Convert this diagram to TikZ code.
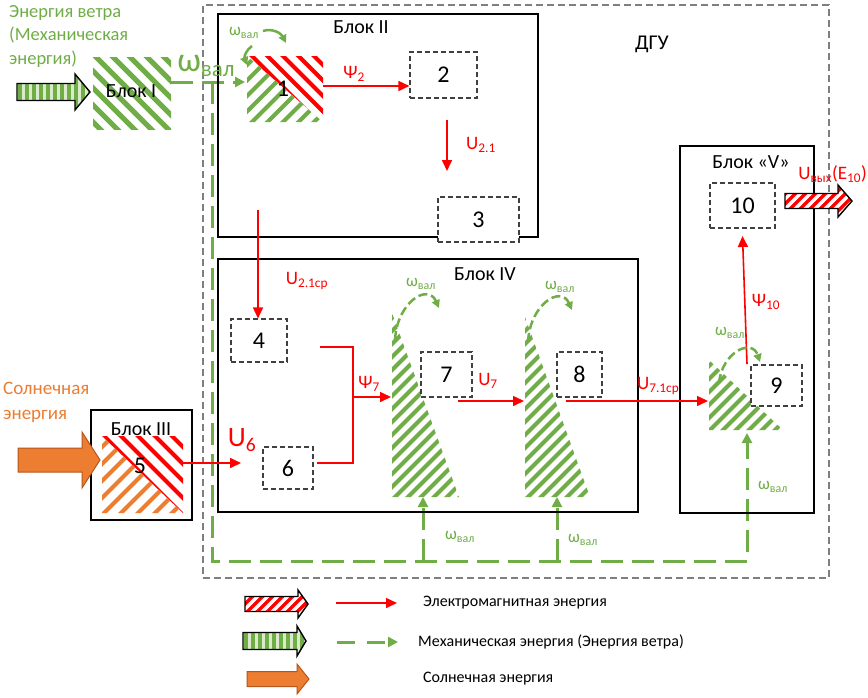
\documentclass[tikz,border=0pt]{standalone}
\usepackage{fontspec}
\setmainfont{Carlito}
\usetikzlibrary{arrows.meta}
\definecolor{mgreen}{HTML}{70AD47}
\definecolor{lgreen}{HTML}{D9EBCB}
\definecolor{morange}{HTML}{ED7D31}
\definecolor{dorange}{HTML}{B4561C}
\definecolor{tgray}{HTML}{7F7F7F}
\definecolor{dgray}{HTML}{404040}
\definecolor{mred}{HTML}{FF0000}
\newcommand\fs[1]{\fontsize{#1}{#1}\selectfont}
% hatch helpers (use inside a clipped scope)
\newcommand\hatchbs[5]{\foreach \k in {-22,...,22}{\draw[#1,line width=#2] ({#4+\k*#3-140},{#5-140}) -- ++(280,280);}}
\newcommand\hatchfs[5]{\foreach \k in {-22,...,22}{\draw[#1,line width=#2] ({#4+\k*#3-140},{#5+140}) -- ++(280,-280);}}
\newcommand\hatchv[5]{\foreach \k in {-12,...,12}{\draw[#1,line width=#2] ({#4+\k*#3},{#5-40}) -- ++(0,80);}}
% block arrow outline: x0, xbody, xtip, ycentre, half body, half head
\newcommand\barrow[6]{(#1,{#4-#5}) -- (#2,{#4-#5}) -- (#2,{#4-#6}) -- (#3,#4) -- (#2,{#4+#6}) -- (#2,{#4+#5}) -- (#1,{#4+#5}) -- cycle}
\tikzset{
  blk/.style={draw=black, line width=1.8pt, inner sep=0pt},
  dbox/.style={draw=dgray, dash pattern=on 5pt off 3pt, line width=1.1pt, fill=white, inner sep=0pt, font=\fs{24}},
  rarr/.style={draw=mred, line width=1.6pt, -{Triangle[length=11pt,width=10pt]}},
  rline/.style={draw=mred, line width=1.3pt},
  garr/.style={draw=mgreen, line width=3pt, dash pattern=on 22pt off 9pt, -{Triangle[length=10pt,width=10pt]}},
  garc/.style={draw=mgreen, line width=2.5pt, -{Triangle[length=8pt,width=8pt]}},
  gdarc/.style={garc, dash pattern=on 9pt off 4pt},
  blabel/.style={inner sep=0pt, font=\fs{20}},
  numlbl/.style={inner sep=0pt, font=\fs{24}},
  rlabel/.style={inner sep=0pt, text=mred, font=\fs{19}},
  glabel/.style={inner sep=0pt, text=mgreen, font=\fs{17}},
  legtext/.style={inner sep=0pt, anchor=west, font=\fs{16}},
  arrowline/.style={draw=black, line width=1.4pt},
}
\begin{document}
\begin{tikzpicture}[x=1pt,y=-1pt]
\useasboundingbox (0,0) rectangle (868,697);
\fill[white] (0,0) rectangle (868,697);

% ---------- outer DGU frame ----------
\node[draw=tgray, dash pattern=on 7pt off 4pt, line width=1.6pt, minimum width=626pt, minimum height=573pt, inner sep=0pt] (dgu) at (516,291.5) {};
\node[blabel, font=\fs{21}] (dgulbl) at (652,44) {ДГУ};

% ---------- mechanical (green dashed) connectors ----------
\coordinate (g0) at (171,82);
\coordinate (g1) at (245,82);
\coordinate (gj) at (212,82);
\coordinate (gb) at (212,561);
\coordinate (gr) at (747,561);
\coordinate (g9) at (747,433);
\coordinate (gs7) at (423,561);
\coordinate (gt7) at (423,497);
\coordinate (gs8) at (557,561);
\coordinate (gt8) at (557,497);
\draw[garr] (g0) -- (g1);
\draw[garr] (gj) -- (gb) -- (gr) -- (g9);
\draw[garr] (gs7) -- (gt7);
\draw[garr] (gs8) -- (gt8);

% ---------- blocks ----------
\node[blk, minimum width=320pt, minimum height=223pt] (B2) at (378,125.5) {};
\node[blabel] (B2l) at (361,27.5) {Блок II};
\node[blk, minimum width=420pt, minimum height=253pt] (B4) at (428,385.5) {};
\node[blabel] (B4l) at (485,274) {Блок IV};
\node[blk, minimum width=134pt, minimum height=367pt] (B5) at (747,329.5) {};
\node[blabel] (B5l) at (751,162) {Блок «V»};
\node[blk, minimum width=101pt, minimum height=110pt] (B3) at (141.5,465) {};

% ---------- Block I (green hatched) ----------
\begin{scope}
  \clip (93,57) rectangle (171,129);
  \hatchbs{mgreen}{5pt}{17}{132}{93}
\end{scope}
\node[blabel] (B1) at (131,91) {Блок I};

% ---------- element 1 ----------
\begin{scope}
  \clip (247,56) -- (323,56) -- (323,122) -- cycle;
  \hatchbs{mred}{4pt}{15.5}{285}{89}
\end{scope}
\begin{scope}
  \clip (247,56) -- (247,122) -- (323,122) -- cycle;
  \hatchfs{mgreen}{4pt}{15.5}{285}{89}
\end{scope}
\node[numlbl] (e1) at (283,89) {1};

% ---------- element 5 ----------
\begin{scope}
  \clip (102,436) -- (183,436) -- (183,513) -- cycle;
  \hatchbs{mred}{4pt}{17}{142.5}{474.5}
\end{scope}
\begin{scope}
  \clip (102,436) -- (102,513) -- (183,513) -- cycle;
  \hatchfs{morange}{4pt}{17}{142.5}{474.5}
\end{scope}
\node[blabel] (B3l) at (141,429) {Блок III};
\node[numlbl] (e5) at (140,466) {5};

% ---------- hatched wedges 7, 8, 9 ----------
\begin{scope}
  \clip (392,313) -- (392,497) -- (459,497) -- cycle;
  \hatchfs{mgreen}{4pt}{13}{420}{420}
\end{scope}
\begin{scope}
  \clip (525,317) -- (525,497) -- (590,497) -- cycle;
  \hatchfs{mgreen}{4pt}{13}{553}{420}
\end{scope}
\begin{scope}
  \clip (709,360) -- (709,430) -- (783,430) -- cycle;
  \hatchfs{mgreen}{4pt}{13}{740}{400}
\end{scope}

% ---------- dashed element boxes ----------
\node[dbox, minimum width=67pt, minimum height=46pt] (b2) at (443.5,75) {2};
\node[dbox, minimum width=81pt, minimum height=45pt] (b3) at (478.5,219.5) {3};
\node[dbox, minimum width=56pt, minimum height=43pt] (b4) at (259,340.5) {4};
\node[dbox, minimum width=50pt, minimum height=42pt] (b6) at (288,468) {6};
\node[dbox, minimum width=51pt, minimum height=45pt] (b7) at (446.5,374.5) {7};
\node[dbox, minimum width=45pt, minimum height=45pt] (b8) at (579.5,374.5) {8};
\node[dbox, minimum width=51pt, minimum height=41pt] (b9) at (776.5,385.5) {9};
\node[dbox, minimum width=65pt, minimum height=45pt] (b10) at (742.5,205.5) {10};

% ---------- electromagnetic (red) connectors ----------
\coordinate (r1) at (323,86);
\draw[rarr] (r1) -- (b2.west |- r1);
\coordinate (r21a) at (447,120);
\coordinate (r21b) at (447,171);
\draw[rarr] (r21a) -- (r21b);
\coordinate (r2c) at (258,210);
\draw[rarr] (r2c) -- (b4.north -| r2c);
\coordinate (r5) at (183,463);
\coordinate (r6) at (241,463);
\draw[rarr] (r5) -- (r6);
\coordinate (ra) at (320,347);
\coordinate (rb) at (353,347);
\coordinate (rc) at (353,463);
\coordinate (rd) at (317,463);
\draw[rline] (ra) -- (rb) -- (rc) -- (rd);
\coordinate (rm) at (353,397);
\coordinate (r7in) at (391,397);
\draw[rarr] (rm) -- (r7in);
\coordinate (r7o) at (458,401);
\coordinate (r8in) at (524,401);
\draw[rarr] (r7o) -- (r8in);
\coordinate (r8o) at (566,401);
\coordinate (r9in) at (708,401);
\draw[rarr] (r8o) -- (r9in);
\coordinate (r9o) at (747,364);
\draw[rarr] (r9o) -- (b10.south |- 0,236);

% ---------- rotation arcs ----------
\draw[garc] (263,31) .. controls (272,28) and (281,33) .. (286,43);
\draw[garc] (252,46) .. controls (246,50) and (244,57) .. (247,65);
\draw[gdarc] (395,340) .. controls (397,302) and (428,283) .. (439,308);
\draw[gdarc] (528,342) .. controls (530,304) and (561,285) .. (572,310);
\draw[gdarc] (719,383) .. controls (722,352) and (752,338) .. (760,362);

% ---------- labels ----------
\node[glabel] (w1) at (244,33) {ω\textsubscript{вал}};
\node[inner sep=0pt, text=mgreen] (wbig) at (206,66) {{\fs{34}ω}{\fs{23}\raisebox{-5pt}{вал}}};
\node[glabel] (w7) at (421,284) {ω\textsubscript{вал}};
\node[glabel] (w8) at (560,287) {ω\textsubscript{вал}};
\node[glabel] (w9) at (730,333) {ω\textsubscript{вал}};
\node[glabel] (wb1) at (460,537) {ω\textsubscript{вал}};
\node[glabel] (wb2) at (583,540) {ω\textsubscript{вал}};
\node[glabel] (wb3) at (773,487) {ω\textsubscript{вал}};

\node[rlabel] (lpsi2) at (354,74) {Ψ\textsubscript{2}};
\node[rlabel] (lu21) at (481,145) {U\textsubscript{2.1}};
\node[rlabel] (lu21cp) at (307,281) {U\textsubscript{2.1ср}};
\node[rlabel, font=\fs{28}] (lu6) at (242,440) {U\textsubscript{6}};
\node[rlabel] (lpsi7) at (369,384) {Ψ\textsubscript{7}};
\node[rlabel] (lu7) at (488,381) {U\textsubscript{7}};
\node[rlabel, anchor=west] (lu71) at (637,386) {U\textsubscript{7.1ср}};
\node[rlabel] (lpsi10) at (766,302) {Ψ\textsubscript{10}};
\node[rlabel, anchor=east] (luout) at (867,174) {U\textsubscript{вых}(E\textsubscript{10})};

% ---------- input texts ----------
\node[inner sep=0pt, anchor=north west, align=left, text=mgreen, font=\fontsize{18.5}{23.5}\selectfont] (tw) at (9,5) {Энергия ветра\\(Механическая\\энергия)};
\node[inner sep=0pt, anchor=north west, align=left, text=morange, font=\fontsize{19}{25}\selectfont] (ts) at (3,382) {Солнечная\\энергия};

% ---------- block arrows ----------
% wind input
\begin{scope}
  \clip \barrow{17}{75}{90}{92}{8.5}{18};
  \fill[lgreen] (10,70) rectangle (95,115);
  \hatchv{mgreen}{3.5pt}{7}{20}{92}
\end{scope}
\draw[arrowline] \barrow{17}{75}{90}{92}{8.5}{18};
% solar input
\draw[fill=morange, draw=dorange, line width=1pt] \barrow{18}{82}{100}{460}{12}{28};
% output
\begin{scope}
  \clip \barrow{785}{838}{852}{201}{7.5}{16};
  \fill[white] (780,180) rectangle (860,220);
  \hatchfs{mred}{3.5pt}{10}{818}{201}
\end{scope}
\draw[arrowline] \barrow{785}{838}{852}{201}{7.5}{16};

% ---------- legend ----------
\begin{scope}
  \clip \barrow{245}{298}{308}{604}{7.5}{14};
  \fill[white] (240,585) rectangle (312,622);
  \hatchfs{mred}{3.5pt}{10}{275}{604}
\end{scope}
\draw[arrowline] \barrow{245}{298}{308}{604}{7.5}{14};
\coordinate (lr0) at (336,603);
\coordinate (lr1) at (397,603);
\draw[rarr] (lr0) -- (lr1);
\node[legtext] (lt1) at (423,603) {Электромагнитная энергия};

\begin{scope}
  \clip \barrow{243}{297}{306}{641}{8.5}{15};
  \fill[lgreen] (238,622) rectangle (312,662);
  \hatchv{mgreen}{3.5pt}{7}{246}{641}
\end{scope}
\draw[arrowline] \barrow{243}{297}{306}{641}{8.5}{15};
\coordinate (lg0) at (337,642);
\coordinate (lg1) at (398,642);
\draw[garr, dash pattern=on 18pt off 12pt] (lg0) -- (lg1);
\node[legtext] (lt2) at (418,642) {Механическая энергия (Энергия ветра)};

\draw[fill=morange, draw=dorange, line width=1pt] \barrow{247}{297}{309}{679}{7.5}{15};
\node[legtext] (lt3) at (423,679) {Солнечная энергия};
\end{tikzpicture}
\end{document}
